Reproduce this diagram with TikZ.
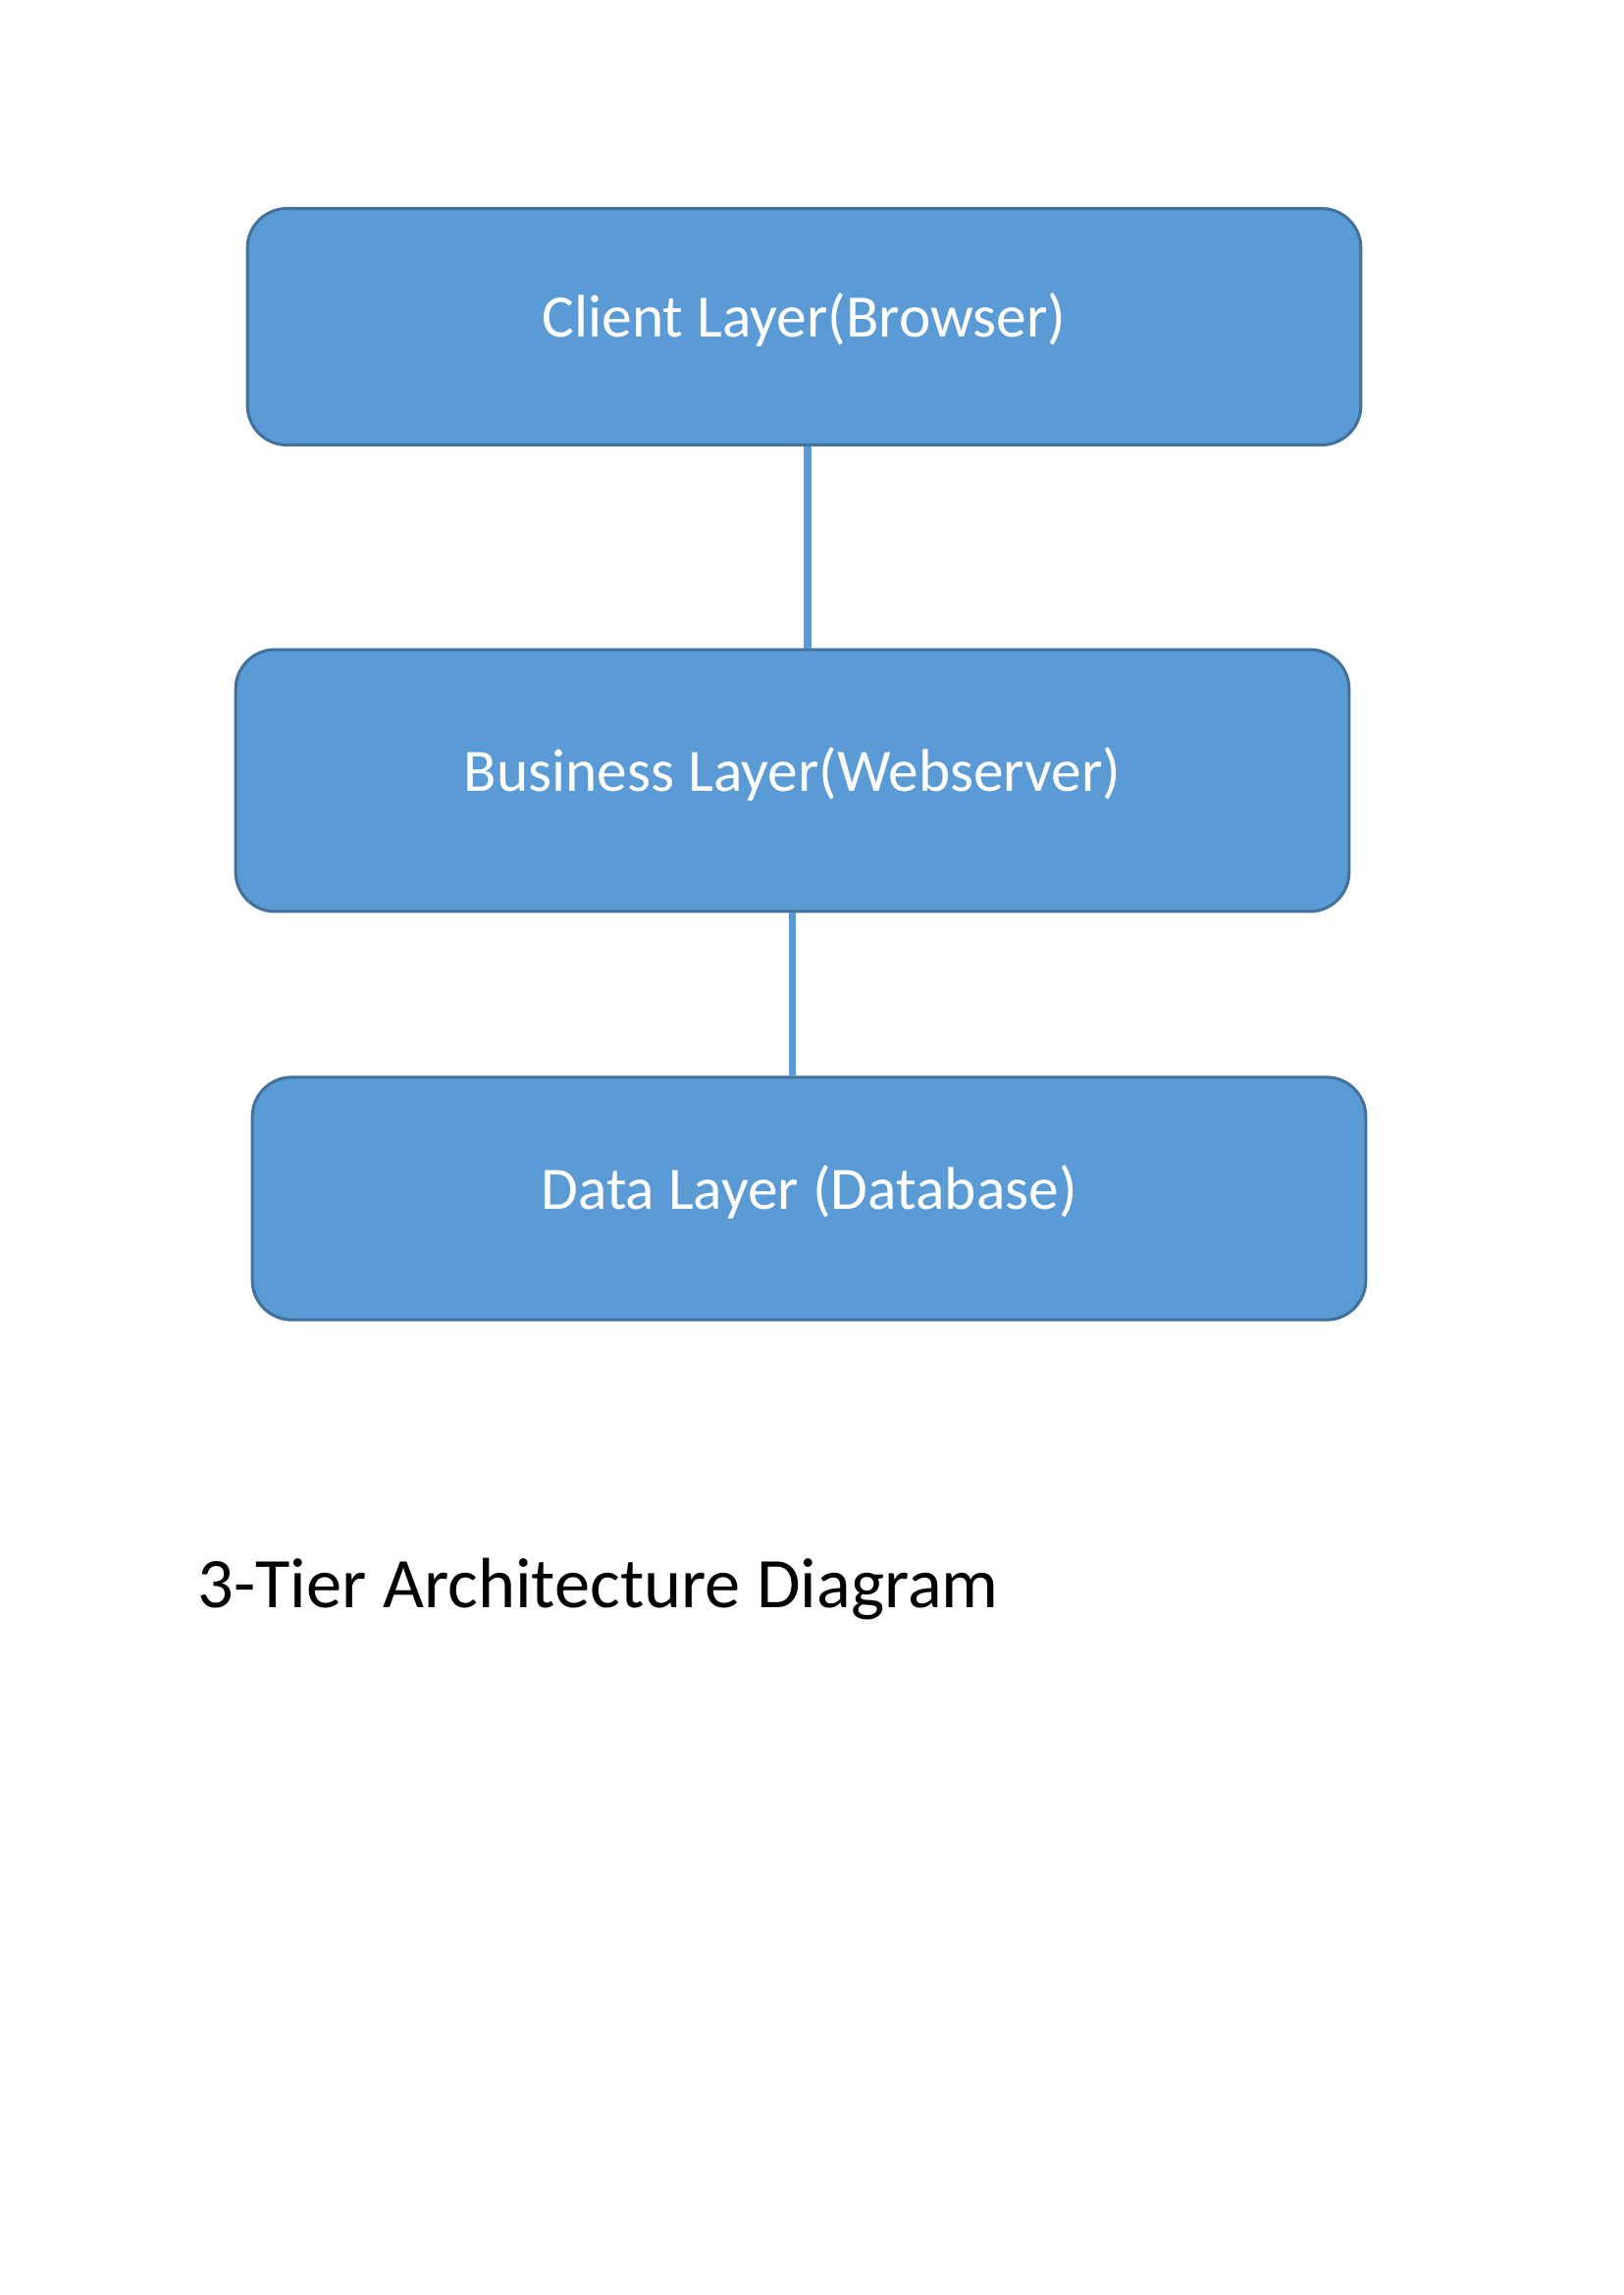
\documentclass[tikz,border=0pt]{standalone}
\usepackage{fontspec}
\setmainfont{Carlito}
\definecolor{boxfill}{HTML}{5B9BD5}
\definecolor{boxline}{HTML}{41719C}
\begin{document}
\begin{tikzpicture}[x=0.127mm,y=-0.127mm,
  layer/.style={draw=boxline,fill=boxfill,line width=1.1pt,rounded corners=5.1mm,
    minimum width=144.1mm,text=white,font=\fontsize{22.2}{26}\selectfont,inner sep=0pt},
  conn/.style={draw=boxfill,line width=2.8pt}]
\useasboundingbox[fill=white] (0,0) rectangle (1654,2339);
\node[layer,minimum height=30.6mm] (b1) at (819.5,333) {\raisebox{3mm}{Client Layer(Browser)}};
\node[layer,minimum height=33.9mm] (b2) at (807.5,795.5) {\raisebox{3mm}{Business Layer(Webserver)}};
\node[layer,minimum height=31.4mm] (b3) at (824.5,1221.5) {\raisebox{3mm}{Data Layer (Database)}};
\coordinate (c1) at (823,0);
\draw[conn] (c1 |- b1.south) -- (c1 |- b2.north);
\draw[conn] (b2.south) -- (b2.south |- b3.north);
\node[anchor=base west,inner sep=0pt,font=\fontsize{26.2}{32}\selectfont] (title) at (201,1638) {3-Tier Architecture Diagram};
\end{tikzpicture}
\end{document}
